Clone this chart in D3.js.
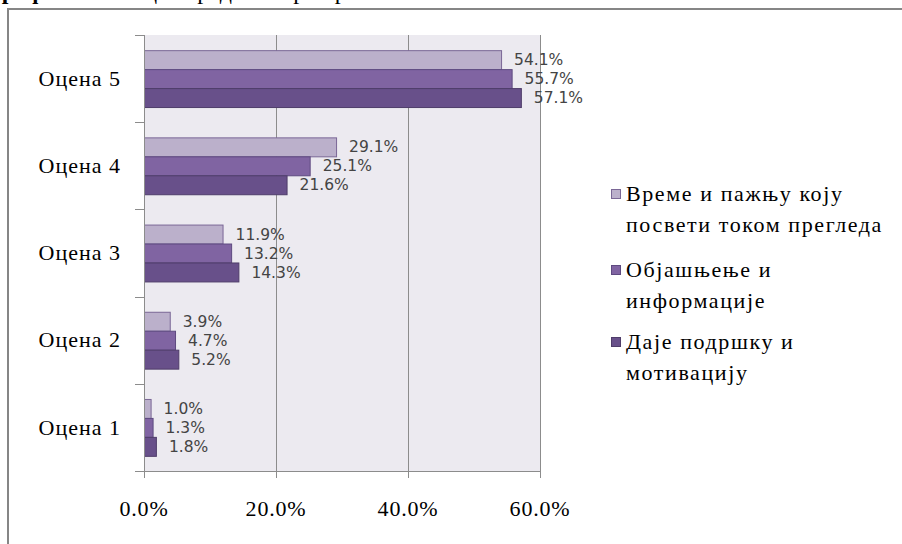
<!DOCTYPE html>
<html>
<head>
<meta charset="utf-8">
<script src="https://cdn.jsdelivr.net/npm/d3@7"></script>
<style>
  html, body { margin: 0; padding: 0; background: #fff; overflow: hidden; }
  svg { display: block; }
  .serif { font-family: "Liberation Serif", "Times New Roman", "DejaVu Serif", serif; }
</style>
</head>
<body>
<script>
// ---- data ----
const categories = ["Оцена 5", "Оцена 4", "Оцена 3", "Оцена 2", "Оцена 1"];
const seriesNames = [
  ["Време и пажњу коју", "посвети током прегледа"],
  ["Објашњење и", "информације"],
  ["Даје подршку и", "мотивацију"]
];
const seriesTime = [54.1, 29.1, 11.9, 3.9, 1.0];
const seriesExplain = [55.7, 25.1, 13.2, 4.7, 1.3];
const seriesSupport = [57.1, 21.6, 14.3, 5.2, 1.8];
const xTicks = [0, 20, 40, 60];
const colors = ["#BBB0CB", "#8064A2", "#68508A"];
const strokes = ["#7A6796", "#5E4A80", "#4F3D6A"];

const seriesValues = [seriesTime, seriesExplain, seriesSupport];

const W = 902, H = 544;
const svg = d3.select("body").append("svg").attr("width", W).attr("height", H);
svg.append("rect").attr("width", W).attr("height", H).attr("fill", "#fff");

// partially visible caption above the frame (cut off in the reference)
svg.append("text")
  .attr("class", "serif")
  .attr("x", -12).attr("y", -1)
  .attr("font-size", 24)
  .attr("fill", "#000")
  .call(t => {
    t.append("tspan").attr("font-weight", "bold").text("Графикон 5. ");
    t.append("tspan").text("Оцена рада лекара према аспектима");
  });

// outer chart frame
svg.append("rect")
  .attr("x", 8).attr("y", 9).attr("width", 1000).attr("height", 1000)
  .attr("fill", "#fff").attr("stroke", "#868686").attr("stroke-width", 2);

const plot = { left: 144, right: 540, top: 35, bottom: 471 };

const x = d3.scaleLinear().domain([0, 60]).range([plot.left, plot.right]);
const y = d3.scaleBand().domain(categories).range([plot.top, plot.bottom]).padding(0);
const ySub = d3.scaleBand().domain([0, 1, 2]).range([0, y.bandwidth()]).paddingInner(0).paddingOuter(0.8);

// plot background
svg.append("rect")
  .attr("x", plot.left).attr("y", plot.top)
  .attr("width", plot.right - plot.left).attr("height", plot.bottom - plot.top)
  .attr("fill", "#ECEAF0");

// vertical gridlines + ticks below axis
svg.append("g").selectAll("line").data(xTicks).join("line")
  .attr("x1", d => x(d) + 0.5).attr("x2", d => x(d) + 0.5)
  .attr("y1", plot.top).attr("y2", plot.bottom + 7)
  .attr("stroke", "#8C8C8C").attr("stroke-width", 1);

// category ticks on left axis
const yBounds = categories.map(c => y(c)).concat([plot.bottom]);
svg.append("g").selectAll("line").data(yBounds).join("line")
  .attr("x1", plot.left - 9).attr("x2", plot.left)
  .attr("y1", d => Math.round(d) + 0.5).attr("y2", d => Math.round(d) + 0.5)
  .attr("stroke", "#8C8C8C");

// bottom axis line
svg.append("line")
  .attr("x1", plot.left - 9).attr("x2", plot.right + 1)
  .attr("y1", plot.bottom + 0.5).attr("y2", plot.bottom + 0.5)
  .attr("stroke", "#8C8C8C");

// bars
const rows = [];
categories.forEach((c, i) => seriesValues.forEach((s, j) => rows.push({ c, j, v: s[i] })));

svg.append("g").selectAll("rect").data(rows).join("rect")
  .attr("x", x(0) + 0.5)
  .attr("y", d => y(d.c) + ySub(d.j) + 0.5)
  .attr("width", d => x(d.v) - x(0))
  .attr("height", ySub.bandwidth())
  .attr("fill", d => colors[d.j])
  .attr("stroke", d => strokes[d.j])
  .attr("stroke-width", 1);

// left axis line on top of bars
svg.append("line")
  .attr("x1", plot.left + 0.5).attr("x2", plot.left + 0.5)
  .attr("y1", plot.top).attr("y2", plot.bottom + 7)
  .attr("stroke", "#8C8C8C");

// data labels
svg.append("g").selectAll("text").data(rows).join("text")
  .attr("x", d => x(d.v) + 13)
  .attr("y", d => y(d.c) + ySub(d.j) + ySub.bandwidth() / 2)
  .attr("dy", "0.36em")
  .attr("font-family", "DejaVu Sans, Verdana, sans-serif")
  .attr("font-size", 15.5)
  .attr("fill", "#444")
  .text(d => d.v.toFixed(1) + "%");

// category labels
svg.append("g").selectAll("text").data(categories).join("text")
  .attr("class", "serif")
  .attr("x", 121)
  .attr("y", d => y(d) + y.bandwidth() / 2)
  .attr("dy", "0.33em")
  .attr("text-anchor", "end")
  .attr("font-size", 22)
  .attr("letter-spacing", 1)
  .attr("fill", "#000")
  .text(d => d);

// x tick labels
svg.append("g").selectAll("text").data(xTicks).join("text")
  .attr("class", "serif")
  .attr("x", d => x(d))
  .attr("y", 516)
  .attr("text-anchor", "middle")
  .attr("font-size", 22)
  .attr("letter-spacing", 0.8)
  .attr("fill", "#000")
  .text(d => d.toFixed(1) + "%");

// legend
const legendTop = [194, 270, 342];
const lineGap = 31;
const lg = svg.append("g");
seriesNames.forEach((lines, j) => {
  const cy = legendTop[j];
  lg.append("rect")
    .attr("x", 611.5).attr("y", cy - 4.5)
    .attr("width", 9).attr("height", 9)
    .attr("fill", colors[j]).attr("stroke", strokes[j]);
  lines.forEach((ln, k) => {
    lg.append("text")
      .attr("class", "serif")
      .attr("x", 626)
      .attr("y", cy + k * lineGap)
      .attr("dy", "0.33em")
      .attr("font-size", 22)
      .attr("letter-spacing", 1.6)
      .attr("fill", "#000")
      .text(ln);
  });
});
</script>
</body>
</html>
